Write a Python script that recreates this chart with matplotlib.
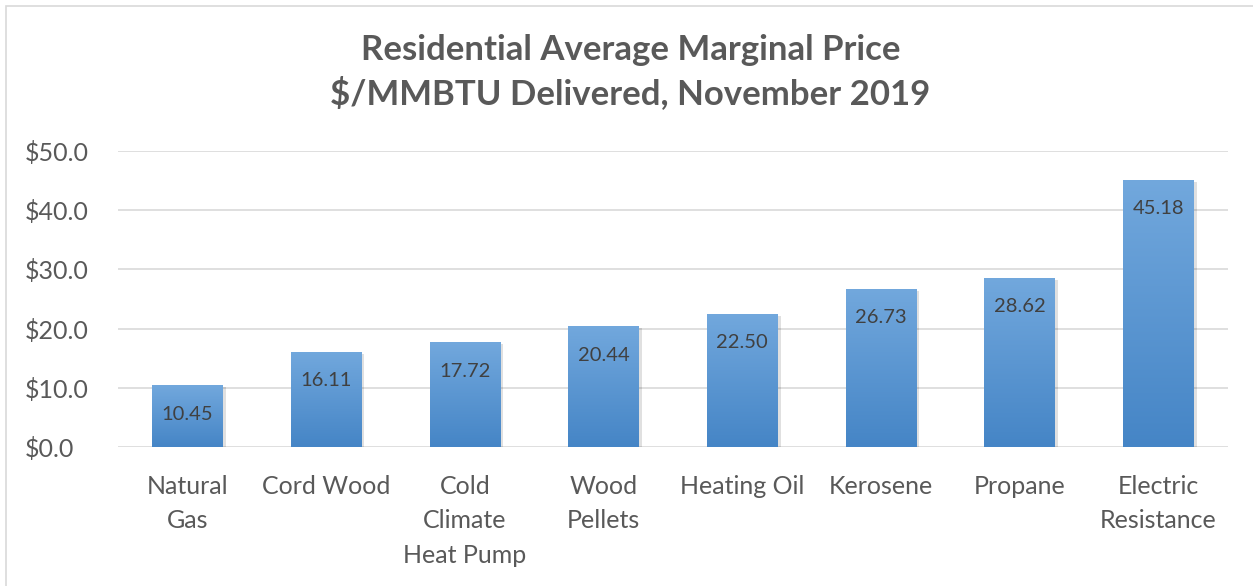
import numpy as np
import matplotlib.pyplot as plt
from matplotlib.colors import LinearSegmentedColormap
from matplotlib.patches import Rectangle
from matplotlib.ticker import FuncFormatter

plt.rcParams["font.family"] = ["Lato", "DejaVu Sans"]

categories = ["Natural\nGas", "Cord Wood", "Cold\nClimate\nHeat Pump", "Wood\nPellets",
              "Heating Oil", "Kerosene", "Propane", "Electric\nResistance"]
prices = [10.45, 16.11, 17.72, 20.44, 22.50, 26.73, 28.62, 45.18]
value_labels = ["10.45", "16.11", "17.72", "20.44", "22.50", "26.73", "28.62", "45.18"]

fig = plt.figure(figsize=(12.53, 5.86), dpi=100)
ax = fig.add_axes([0.0942, 0.2372, 0.8858, 0.5051])

# outer chart border
fig.patches.append(Rectangle((0.005, -0.01), 1.2, 1.0, transform=fig.transFigure,
                             fill=False, edgecolor="#d9d9d9", linewidth=1.2))

grad = LinearSegmentedColormap.from_list("bar", ["#4585c6", "#72a8dd"])
gradient = np.linspace(0, 1, 256).reshape(-1, 1)
width = 0.51
x = np.arange(len(categories))

for xi, val, lab in zip(x, prices, value_labels):
    # soft shadow
    ax.add_patch(Rectangle((xi - width / 2 + 0.02, -0.35), width, val,
                           facecolor="#000000", alpha=0.12, linewidth=0, zorder=2))
    bar = ax.bar(xi, val, width=width, color="none", zorder=3)[0]
    im = ax.imshow(gradient, cmap=grad, aspect="auto", origin="lower",
                   extent=(xi - width / 2, xi + width / 2, 0, val), zorder=3)
    im.set_clip_path(bar)
    ax.annotate(lab, (xi, val), xytext=(0, -21), textcoords="offset points",
                ha="center", va="center", fontsize=14.5, color="#404040", zorder=4)

ax.set_xlim(-0.5, len(categories) - 0.5)
ax.set_ylim(0, 50)
ax.set_yticks(np.arange(0, 51, 10))
ax.yaxis.set_major_formatter(FuncFormatter(lambda v, p: f"${v:.1f}"))
ax.set_xticks(x)
ax.set_xticklabels(categories, linespacing=1.6)
ax.tick_params(axis="both", length=0, labelsize=18, colors="#595959")
ax.tick_params(axis="x", pad=20)
ax.tick_params(axis="y", pad=67)
for lbl in ax.get_yticklabels():
    lbl.set_horizontalalignment("left")
ax.grid(axis="y", color="#d9d9d9", linewidth=1.2, zorder=0)
ax.set_axisbelow(True)
for s in ax.spines.values():
    s.set_visible(False)

fig.text(0.503, 0.877, "Residential Average Marginal Price\n$/MMBTU Delivered, November 2019",
         ha="center", va="center", fontsize=25, fontweight="bold", color="#595959",
         linespacing=1.36)

fig.savefig("out.png", dpi=100)
